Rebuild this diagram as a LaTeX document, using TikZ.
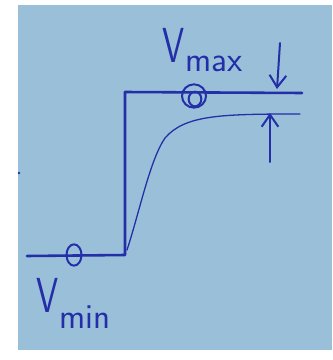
\documentclass[tikz,border=0pt]{standalone}
\usepackage{tikz}
\usetikzlibrary{arrows.meta, shapes.geometric}
\definecolor{paperBlue}{RGB}{153,192,216}
\definecolor{inkBlue}{RGB}{36,46,168}
\newcommand{\handV}[2]{\scalebox{0.72}[1]{\fontsize{42}{42}\selectfont V}\kern1pt\raisebox{#2}{\fontsize{30}{30}\selectfont #1}}
\tikzset{
	inkline/.style={draw=inkBlue, line width=2.2pt, line cap=round, line join=round},
	slowline/.style={draw=inkBlue, line width=1.1pt, line cap=round},
	ring/.style={ellipse, draw=inkBlue, line width=1.7pt, inner sep=0pt},
	gaparr/.style={draw=inkBlue, line width=1.7pt, line cap=round,
		-{Straight Barb[length=3.6mm, width=5mm, line width=1.7pt]}},
	handtext/.style={text=inkBlue, inner sep=0pt, font=\sffamily}
}
\begin{document}
\begin{tikzpicture}[x=0.03cm, y=-0.03cm]
	\useasboundingbox (0,0) rectangle (332,360);
	\fill[paperBlue] (18,5) rectangle (332,350);
	\coordinate (lowL) at (27,256);
	\coordinate (stepB) at (125,255);
	\coordinate (stepT) at (125,92);
	\coordinate (highR) at (302,93);
	\coordinate (slowB) at (127,250);
	\coordinate (slowK) at (165,138);
	\coordinate (slowR) at (300,114);
	\coordinate (dnTail) at (280,43);
	\coordinate (dnTip) at (277,89);
	\coordinate (upTail) at (270,162);
	\coordinate (upTip) at (270,113);
	\node[ring, minimum width=0.45cm, minimum height=0.64cm] (omin) at (74,255) {};
	\node[ring, minimum width=0.72cm, minimum height=0.7cm] (omax) at (194,96) {};
	\node[ring, minimum width=0.38cm, minimum height=0.44cm] (omaxin) at (195,99) {};
	\node[fill=inkBlue, circle, inner sep=0.9pt] (dot) at (19,173) {};
	\draw[inkline] (lowL) -- (stepB) -- (stepT) -- (highR);
	\draw[slowline] (slowB) .. controls (140,210) and (150,160) .. (slowK)
		.. controls (185,115) and (220,114) .. (slowR);
	\draw[gaparr] (dnTail) -- (dnTip);
	\draw[gaparr] (upTail) -- (upTip);
	\node[handtext, anchor=base west] (vmax) at (162,62) {\handV{max}{-8pt}};
	\node[handtext, anchor=base west] (vmin) at (36,312) {\handV{min}{-14pt}};
\end{tikzpicture}
\end{document}
